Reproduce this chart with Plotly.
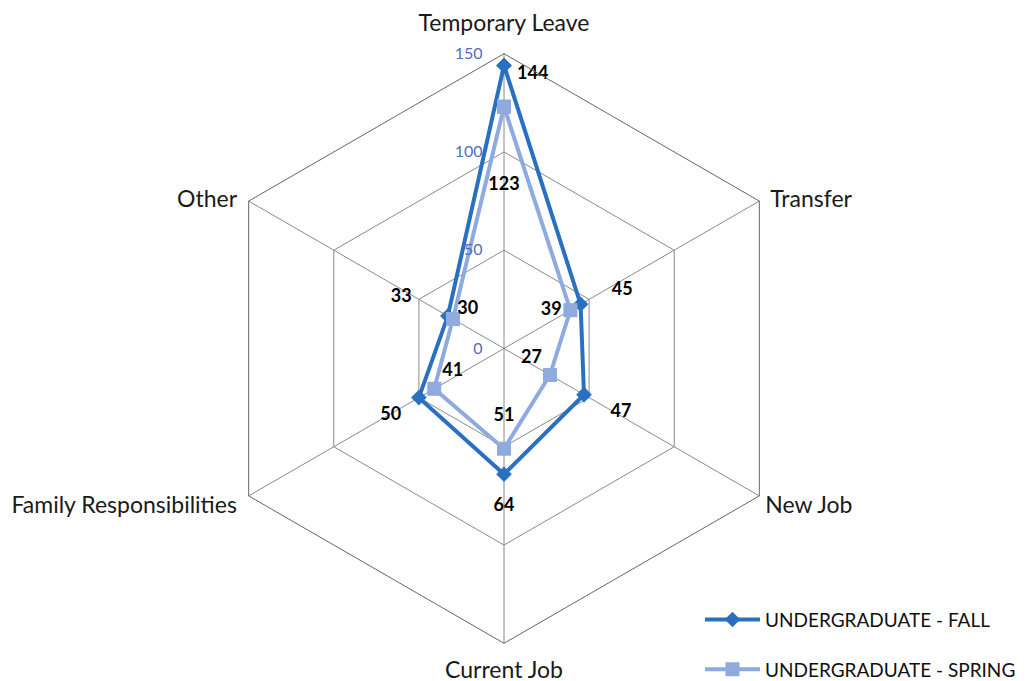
import plotly.graph_objects as go

categories = ["Temporary Leave", "Transfer", "New Job", "Current Job", "Family Responsibilities", "Other"]
fall = [144, 45, 47, 64, 50, 33]
spring = [123, 39, 27, 51, 41, 30]
radial_ticks = [0, 50, 100, 150]

# ---- label placement (style only: text position, invisible-marker pad size, spacing) ----
NB = "\u00a0"
fall_pos = ["bottom right", "top right", "bottom right", "bottom center", "bottom left", "top left"]
fall_fmt = [NB*3 + "{}", NB*6 + "{}", NB*4 + "{}", "<br>{}", "{}" + NB*2, "{}" + NB*6]
fall_pad = [0, 6.4, 12.8, 0, 12.8, 14.4]
spring_pos = ["bottom center", "middle left", "top left", "top center", "top right", "top right"]
spring_fmt = ["<br><br><br>{}", "{}" + NB*2, "{}", "{}<br>", "{}", NB + "{}"]
spring_pad = [0, 0, 11.2, 0, 11.2, 0]
cat_pos = ["top center", "middle right", "bottom right", "bottom center", "bottom left", "middle left"]
cat_fmt = ["{}", "{}", NB + "{}", "{}", "{}" + NB*2, "{}"]
cat_pad = [25, 16, 0, 26, 0, 17]
TICK_GAP = '<span style="color:rgba(0,0,0,0)">00</span>'

FALL_C = "#2A70C0"
SPRING_C = "#8EAADF"
FONT = "Lato, Open Sans, sans-serif"
LABEL_FONT = dict(family=FONT, size=18, color="black", weight="bold")


def pad_marker(size):
    return dict(size=size, opacity=0, line=dict(width=0))


fig = go.Figure()
fig.add_trace(go.Scatterpolar(
    r=fall + [fall[0]], theta=categories + [categories[0]],
    mode="lines+markers", name="UNDERGRADUATE - FALL", legendgroup="fall",
    line=dict(color=FALL_C, width=4),
    marker=dict(symbol="diamond", size=12, color=FALL_C),
))
fig.add_trace(go.Scatterpolar(
    r=spring + [spring[0]], theta=categories + [categories[0]],
    mode="lines+markers", name="UNDERGRADUATE - SPRING", legendgroup="spring",
    line=dict(color=SPRING_C, width=4),
    marker=dict(symbol="square", size=14, color=SPRING_C),
))
# data labels
for vals, fmt, pos, pad in [(fall, fall_fmt, fall_pos, fall_pad),
                            (spring, spring_fmt, spring_pos, spring_pad)]:
    fig.add_trace(go.Scatterpolar(
        r=vals, theta=categories, mode="markers+text",
        text=[f.format(v) for f, v in zip(fmt, vals)],
        textposition=pos, textfont=LABEL_FONT,
        marker=pad_marker(pad),
        showlegend=False, hoverinfo="skip", cliponaxis=False,
    ))
# category labels at the outer ring
fig.add_trace(go.Scatterpolar(
    r=[radial_ticks[-1]] * len(categories), theta=categories, mode="markers+text",
    text=[f.format(c) for f, c in zip(cat_fmt, categories)],
    textposition=cat_pos, textfont=dict(family=FONT, size=23, color="#1a1a1a"),
    marker=pad_marker(cat_pad),
    showlegend=False, hoverinfo="skip", cliponaxis=False,
))

fig.update_layout(
    width=1027, height=681,
    margin=dict(l=0, r=0, t=0, b=0),
    paper_bgcolor="white", plot_bgcolor="white",
    font=dict(family=FONT, size=18, color="#222"),
    polar=dict(
        domain=dict(x=[199/1027, 793/1027], y=[41/681, 635/681]),
        gridshape="linear",
        bgcolor="white",
        angularaxis=dict(
            rotation=90, direction="clockwise",
            showline=True, linecolor="#666", linewidth=1,
            gridcolor="#8a8a8a", gridwidth=1,
            ticks="", showticklabels=False,
        ),
        radialaxis=dict(
            range=[radial_ticks[0], radial_ticks[-1]], tickvals=radial_ticks,
            ticktext=[str(t) + TICK_GAP for t in radial_ticks],
            angle=90, tickangle=90, side="counterclockwise",
            showline=False, gridcolor="#8a8a8a", gridwidth=1, ticks="",
            tickfont=dict(family=FONT, size=16, color="#4F6FBD"),
        ),
    ),
    legend=dict(
        x=692/1027, y=(681-597)/681, xanchor="left", yanchor="top",
        font=dict(size=19, color="#111"),
        itemwidth=55, tracegroupgap=22, bgcolor="rgba(0,0,0,0)",
    ),
)

fig.write_html("out.html")
